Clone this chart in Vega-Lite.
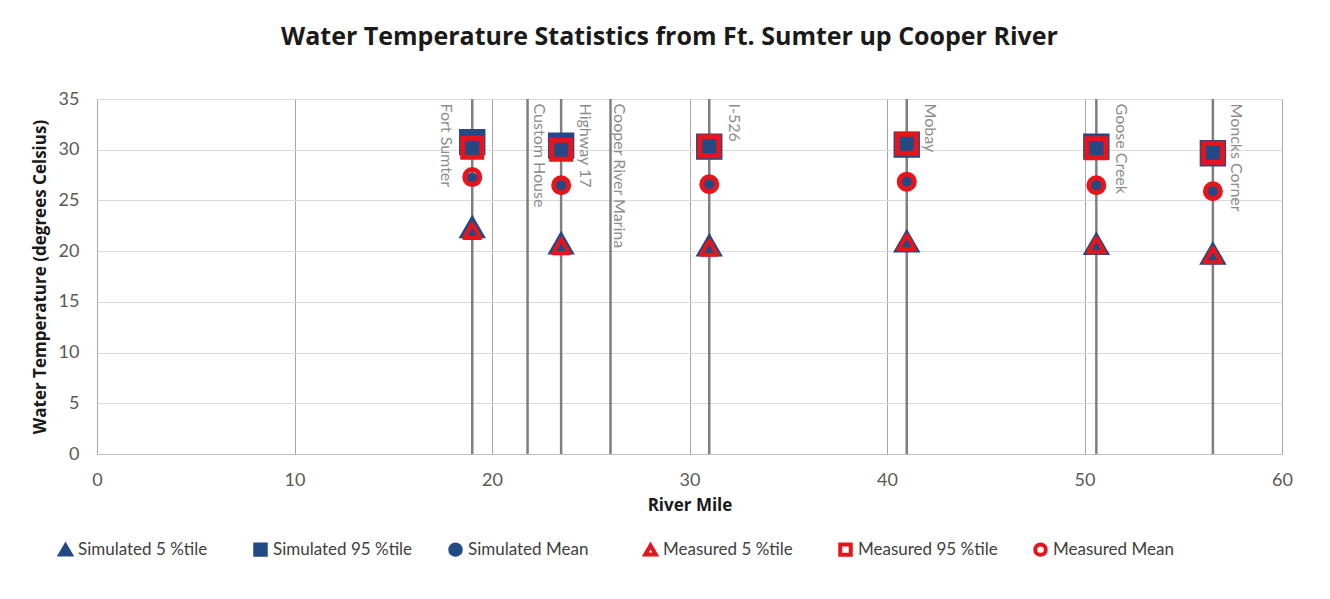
{
  "$schema": "https://vega.github.io/schema/vega-lite/v6.json",
  "width": 1185,
  "height": 355,
  "autosize": {"type": "none"},
  "padding": {"left": 97, "top": 99, "right": 48, "bottom": 145},
  "background": "white",
  "title": {
    "text": "Water Temperature Statistics from Ft. Sumter up Cooper River",
    "font": "Open Sans",
    "fontSize": 25,
    "fontWeight": "bold",
    "color": "#1a1a1a",
    "anchor": "middle",
    "baseline": "alphabetic",
    "offset": 20,
    "dx": -20
  },
  "config": {
    "font": "Lato",
    "view": {"stroke": "#c9c9c9", "strokeWidth": 1},
    "axis": {"labelFont": "Lato", "titleFont": "Open Sans", "labelFlush": false},
    "legend": {"labelFont": "Lato"}
  },
  "datasets": {
    "stations": [
      {"station": "Fort Sumter", "mile": 19.0, "labelMile": 17.68},
      {"station": "Custom House", "mile": 21.8, "labelMile": 22.37},
      {"station": "Highway 17", "mile": 23.5, "labelMile": 24.7},
      {"station": "Cooper River Marina", "mile": 26.0, "labelMile": 26.44},
      {"station": "I-526", "mile": 31.0, "labelMile": 32.24},
      {"station": "Mobay", "mile": 41.0, "labelMile": 42.2},
      {"station": "Goose Creek", "mile": 50.6, "labelMile": 51.85},
      {"station": "Moncks Corner", "mile": 56.5, "labelMile": 57.67}
    ],
    "points": [
      {"station": "Fort Sumter", "mile": 19.0, "series": "Simulated 5 %tile", "temp": 22.4},
      {"station": "Fort Sumter", "mile": 19.0, "series": "Simulated 95 %tile", "temp": 30.75},
      {"station": "Fort Sumter", "mile": 19.0, "series": "Simulated Mean", "temp": 27.1},
      {"station": "Fort Sumter", "mile": 19.0, "series": "Measured 5 %tile", "temp": 22.0},
      {"station": "Fort Sumter", "mile": 19.0, "series": "Measured 95 %tile", "temp": 30.2},
      {"station": "Fort Sumter", "mile": 19.0, "series": "Measured Mean", "temp": 27.3},
      {"station": "Highway 17", "mile": 23.5, "series": "Simulated 5 %tile", "temp": 20.8},
      {"station": "Highway 17", "mile": 23.5, "series": "Simulated 95 %tile", "temp": 30.4},
      {"station": "Highway 17", "mile": 23.5, "series": "Simulated Mean", "temp": 26.5},
      {"station": "Highway 17", "mile": 23.5, "series": "Measured 5 %tile", "temp": 20.5},
      {"station": "Highway 17", "mile": 23.5, "series": "Measured 95 %tile", "temp": 30.0},
      {"station": "Highway 17", "mile": 23.5, "series": "Measured Mean", "temp": 26.5},
      {"station": "I-526", "mile": 31.0, "series": "Simulated 5 %tile", "temp": 20.6},
      {"station": "I-526", "mile": 31.0, "series": "Simulated 95 %tile", "temp": 30.3},
      {"station": "I-526", "mile": 31.0, "series": "Simulated Mean", "temp": 26.6},
      {"station": "I-526", "mile": 31.0, "series": "Measured 5 %tile", "temp": 20.35},
      {"station": "I-526", "mile": 31.0, "series": "Measured 95 %tile", "temp": 30.35},
      {"station": "I-526", "mile": 31.0, "series": "Measured Mean", "temp": 26.6},
      {"station": "Mobay", "mile": 41.0, "series": "Simulated 5 %tile", "temp": 21.0},
      {"station": "Mobay", "mile": 41.0, "series": "Simulated 95 %tile", "temp": 30.5},
      {"station": "Mobay", "mile": 41.0, "series": "Simulated Mean", "temp": 26.9},
      {"station": "Mobay", "mile": 41.0, "series": "Measured 5 %tile", "temp": 20.9},
      {"station": "Mobay", "mile": 41.0, "series": "Measured 95 %tile", "temp": 30.6},
      {"station": "Mobay", "mile": 41.0, "series": "Measured Mean", "temp": 26.85},
      {"station": "Goose Creek", "mile": 50.6, "series": "Simulated 5 %tile", "temp": 20.75},
      {"station": "Goose Creek", "mile": 50.6, "series": "Simulated 95 %tile", "temp": 30.3},
      {"station": "Goose Creek", "mile": 50.6, "series": "Simulated Mean", "temp": 26.5},
      {"station": "Goose Creek", "mile": 50.6, "series": "Measured 5 %tile", "temp": 20.6},
      {"station": "Goose Creek", "mile": 50.6, "series": "Measured 95 %tile", "temp": 30.15},
      {"station": "Goose Creek", "mile": 50.6, "series": "Measured Mean", "temp": 26.5},
      {"station": "Moncks Corner", "mile": 56.5, "series": "Simulated 5 %tile", "temp": 19.8},
      {"station": "Moncks Corner", "mile": 56.5, "series": "Simulated 95 %tile", "temp": 29.65},
      {"station": "Moncks Corner", "mile": 56.5, "series": "Simulated Mean", "temp": 25.95},
      {"station": "Moncks Corner", "mile": 56.5, "series": "Measured 5 %tile", "temp": 19.6},
      {"station": "Moncks Corner", "mile": 56.5, "series": "Measured 95 %tile", "temp": 29.7},
      {"station": "Moncks Corner", "mile": 56.5, "series": "Measured Mean", "temp": 25.9}
    ]
  },
  "encoding": {
    "x": {
      "field": "mile",
      "type": "quantitative",
      "scale": {"domain": [0, 60], "nice": false, "zero": false},
      "axis": {
        "title": "River Mile",
        "titleFontSize": 17,
        "titleFontWeight": "bold",
        "titleColor": "#1a1a1a",
        "titlePadding": 8,
        "values": [0, 10, 20, 30, 40, 50, 60],
        "labelFontSize": 18,
        "labelColor": "#595959",
        "labelPadding": 17,
        "labelFlush": false,
        "ticks": false,
        "domainColor": "#bfbfbf",
        "grid": true,
        "gridColor": "#a6a6a6",
        "gridWidth": 1
      }
    }
  },
  "layer": [
    {
      "data": {"name": "stations"},
      "mark": {"type": "rule", "color": "#7f7f7f", "strokeWidth": 2.5},
      "encoding": {}
    },
    {
      "data": {"name": "stations"},
      "mark": {"type": "text", "angle": 90, "align": "left", "baseline": "middle", "fontSize": 16, "color": "#8c8c8c", "font": "Lato"},
      "encoding": {
        "x": {"field": "labelMile", "type": "quantitative"},
        "y": {
          "datum": 34.55,
          "type": "quantitative",
          "scale": {"domain": [0, 35], "nice": false},
          "axis": {
            "title": "Water Temperature (degrees Celsius)",
            "titleFontSize": 17,
            "titleFontWeight": "bold",
            "titleColor": "#1a1a1a",
            "titlePadding": 9,
            "values": [0, 5, 10, 15, 20, 25, 30, 35],
            "labelFontSize": 18,
            "labelColor": "#595959",
            "labelPadding": 18,
            "labelFlush": false,
            "ticks": false,
            "domain": false,
            "grid": true,
            "gridColor": "#d9d9d9",
            "gridWidth": 1
          }
        },
        "text": {"field": "station"}
      }
    },
    {
      "data": {"name": "points"},
      "transform": [{"filter": {"field": "series", "oneOf": ["Simulated 5 %tile", "Simulated 95 %tile"]}}],
      "mark": {"type": "point", "size": 620, "strokeWidth": 1.5, "opacity": 1},
      "encoding": {
        "y": {"field": "temp", "type": "quantitative", "title": "Water Temperature (degrees Celsius)"},
        "shape": {"field": "series", "type": "nominal", "scale": {"domain": ["Simulated 5 %tile", "Simulated 95 %tile", "Simulated Mean", "Measured 5 %tile", "Measured 95 %tile", "Measured Mean"], "range": ["triangle-up", "square", "circle", "triangle-up", "square", "circle"]}, "legend": {"title": null, "orient": "none", "legendX": -40, "legendY": 442, "direction": "horizontal", "gridAlign": "all", "labelFontSize": 17, "labelColor": "#404040", "symbolSize": 110, "symbolStrokeWidth": 4, "labelOffset": 4, "columnPadding": 29, "padding": 0}},
        "fill": {"field": "series", "type": "nominal", "scale": {"domain": ["Simulated 5 %tile", "Simulated 95 %tile", "Simulated Mean", "Measured 5 %tile", "Measured 95 %tile", "Measured Mean"], "range": ["#234a84", "#234a84", "#234a84", "transparent", "transparent", "transparent"]}, "legend": {"title": null, "orient": "none", "legendX": -40, "legendY": 442, "direction": "horizontal", "gridAlign": "all", "labelFontSize": 17, "labelColor": "#404040", "symbolSize": 110, "symbolStrokeWidth": 4, "labelOffset": 4, "columnPadding": 29, "padding": 0}},
        "stroke": {"field": "series", "type": "nominal", "scale": {"domain": ["Simulated 5 %tile", "Simulated 95 %tile", "Simulated Mean", "Measured 5 %tile", "Measured 95 %tile", "Measured Mean"], "range": ["#234a84", "#234a84", "#234a84", "#e8141c", "#e8141c", "#e8141c"]}, "legend": {"title": null, "orient": "none", "legendX": -40, "legendY": 442, "direction": "horizontal", "gridAlign": "all", "labelFontSize": 17, "labelColor": "#404040", "symbolSize": 110, "symbolStrokeWidth": 4, "labelOffset": 4, "columnPadding": 29, "padding": 0}}
      }
    },
    {
      "data": {"name": "points"},
      "transform": [{"filter": {"field": "series", "equal": "Simulated Mean"}}],
      "mark": {"type": "point", "size": 150, "strokeWidth": 1, "opacity": 1},
      "encoding": {
        "y": {"field": "temp", "type": "quantitative", "title": "Water Temperature (degrees Celsius)"},
        "shape": {"field": "series", "type": "nominal"},
        "fill": {"field": "series", "type": "nominal"},
        "stroke": {"field": "series", "type": "nominal"}
      }
    },
    {
      "data": {"name": "points"},
      "transform": [{"filter": {"field": "series", "equal": "Measured 5 %tile"}}],
      "mark": {"type": "point", "size": 270, "strokeWidth": 4, "opacity": 1, "strokeJoin": "round"},
      "encoding": {
        "y": {"field": "temp", "type": "quantitative", "title": "Water Temperature (degrees Celsius)"},
        "shape": {"field": "series", "type": "nominal"},
        "fill": {"field": "series", "type": "nominal"},
        "stroke": {"field": "series", "type": "nominal"}
      }
    },
    {
      "data": {"name": "points"},
      "transform": [{"filter": {"field": "series", "equal": "Measured 95 %tile"}}],
      "mark": {"type": "point", "size": 361, "strokeWidth": 5, "opacity": 1},
      "encoding": {
        "y": {"field": "temp", "type": "quantitative", "title": "Water Temperature (degrees Celsius)"},
        "shape": {"field": "series", "type": "nominal"},
        "fill": {"field": "series", "type": "nominal"},
        "stroke": {"field": "series", "type": "nominal"}
      }
    },
    {
      "data": {"name": "points"},
      "transform": [{"filter": {"field": "series", "equal": "Measured Mean"}}],
      "mark": {"type": "point", "size": 225, "strokeWidth": 5, "opacity": 1},
      "encoding": {
        "y": {"field": "temp", "type": "quantitative", "title": "Water Temperature (degrees Celsius)"},
        "shape": {"field": "series", "type": "nominal"},
        "fill": {"field": "series", "type": "nominal"},
        "stroke": {"field": "series", "type": "nominal"}
      }
    }
  ]
}
